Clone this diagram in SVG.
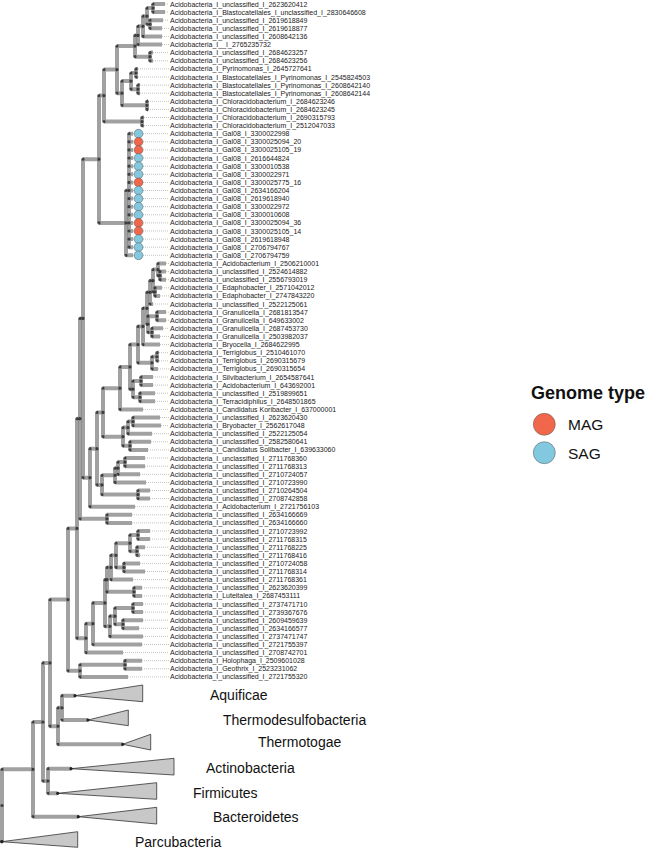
<svg xmlns="http://www.w3.org/2000/svg" width="646" height="850" viewBox="0 0 646 850">
<style>
.br{fill:none;stroke:#8a8a8a;stroke-opacity:.8;stroke-width:4}
.dt{fill:none;stroke:#1e1e1e;stroke-opacity:.75;stroke-width:3.2;stroke-linecap:round}
.ld{fill:none;stroke:#9a9a9a;stroke-width:.6;stroke-dasharray:1 1}
.lb{font-family:"Liberation Sans",Arial,sans-serif;font-size:7px;fill:#1a1a1a}
.cl{font-family:"Liberation Sans",Arial,sans-serif;font-size:14px;fill:#111}
.tri{fill:#c8c8c8;stroke:#333;stroke-width:.8}
.mag{fill:#F0674C;stroke:#555;stroke-width:.5}
.sag{fill:#82C8DE;stroke:#555;stroke-width:.5}
</style>
<rect width="646" height="850" fill="#fff"/>
<g id="connectors">
<path class="ld" d="M165 4H169M165 12.1H169M163 20.2H169M162 28.3H169M162 36.4H169M162 44.5H169M153 52.6H169M153 60.8H169M138 68.9H169M138 77H169M140 85.1H169M140 93.2H169M148 101.3H169M148 109.4H169M144 117.5H169M144 125.6H169M133 133.7H169M133 141.8H169M133 149.9H169M133 158H169M133 166.2H169M133 174.3H169M133 182.4H169M133 190.5H169M133 198.6H169M133 206.7H169M133 214.8H169M133 222.9H169M133 231H169M133 239.1H169M133 247.2H169M133 255.3H169M166 263.5H169M166 271.6H169M166 279.7H169M162 287.8H169M160 295.9H169M153 304H169M166 312.1H169M166 320.2H169M163 328.3H169M160 336.4H169M160 344.6H169M159 352.7H169M159 360.8H169M158 368.9H169M153 377H169M153 385.1H169M155 393.2H169M155 401.3H169M143 409.4H169M160 417.5H169M161 425.6H169M152 433.7H169M151 441.8H169M148 449.9H169M145 458H169M145 466.2H169M140 474.3H169M146 482.4H169M150 490.5H169M150 498.6H169M135 506.7H169M132 514.8H169M132 522.9H169M150 531H169M150 539.1H169M145 547.2H169M140 555.3H169M140 563.4H169M145 571.5H169M133 579.6H169M142 587.8H169M142 595.9H169M143 604H169M143 612.1H169M143 620.2H169M139 628.3H169M143 636.4H169M142 644.5H169M123 652.6H169M142 660.7H169M142 668.8H169M128 676.9H169"/>
<path class="br" d="M153 4V12.1M153 4H165M153 12.1H165"/>
<path class="br" d="M150 20.2V28.3M150 20.2H163M150 28.3H162"/>
<path class="br" d="M147 8.05V24.25M147 8.05H153M147 24.25H150"/>
<path class="br" d="M143 16.15V36.4M143 16.15H147M143 36.4H162"/>
<path class="br" d="M138 26.3V44.5M138 26.3H143M138 44.5H162"/>
<path class="br" d="M150 52.6V60.8M150 52.6H153M150 60.8H153"/>
<path class="br" d="M135 35.4V56.7M135 35.4H138M135 56.7H150"/>
<path class="br" d="M136 68.9V77M136 68.9H138M136 77H138"/>
<path class="br" d="M138 85.1V93.2M138 85.1H140M138 93.2H140"/>
<path class="br" d="M131 73V89.15M131 73H136M131 89.15H138"/>
<path class="br" d="M147 101.3V109.4M147 101.3H148M147 109.4H148"/>
<path class="br" d="M122 81.1V105.35M122 81.1H131M122 105.35H147"/>
<path class="br" d="M117 46.05V93.2M117 46.05H135M117 93.2H122"/>
<path class="br" d="M142 117.5V125.6M142 117.5H144M142 125.6H144"/>
<path class="br" d="M104 69.6V121.55M104 69.6H117M104 121.55H142"/>
<path class="br" d="M99 95.6V222.9M99 95.6H104M99 222.9H126"/>
<path class="br" d="M126 190.5V255.3M126 190.5H129M126 255.3H133"/>
<path class="br" d="M129 133.7V247.2M129 133.7H133M129 141.8H133M129 149.9H133M129 158H133M129 166.2H133M129 174.3H133M129 182.4H133M129 190.5H133M129 198.6H133M129 206.7H133M129 214.8H133M129 222.9H133M129 231H133M129 239.1H133M129 247.2H133"/>
<path class="br" d="M83 159.2V477.7M83 159.2H99M83 477.7H90"/>
<path class="br" d="M90 448.65V506.7M90 448.65H97M90 506.7H135"/>
<path class="br" d="M97 412.4V484.9M97 412.4H103M97 484.9H102"/>
<path class="br" d="M103 388.15V436.7M103 388.15H120M103 436.7H123"/>
<path class="br" d="M120 366.9V409.4M120 366.9H130M120 409.4H143"/>
<path class="br" d="M130 344.6V389.15M130 344.6H138M130 389.15H133"/>
<path class="br" d="M138 326.45V362.8M138 326.45H143M138 362.8H152"/>
<path class="br" d="M143 308.3V344.6M143 308.3H147M143 344.6H160"/>
<path class="br" d="M147 292.35V324.25M147 292.35H150M147 324.25H148"/>
<path class="br" d="M150 280.7V304M150 280.7H153M150 304H153"/>
<path class="br" d="M153 269.6V291.85M153 269.6H158M153 291.85H155"/>
<path class="br" d="M158 263.5V275.65M158 263.5H166M158 275.65H160"/>
<path class="br" d="M160 271.6V279.7M160 271.6H166M160 279.7H166"/>
<path class="br" d="M155 287.8V295.9M155 287.8H162M155 295.9H160"/>
<path class="br" d="M148 316.15V332.35M148 316.15H157M148 332.35H152"/>
<path class="br" d="M157 312.1V320.2M157 312.1H166M157 320.2H166"/>
<path class="br" d="M152 328.3V336.4M152 328.3H163M152 336.4H160"/>
<path class="br" d="M152 356.75V368.9M152 356.75H157M152 368.9H158"/>
<path class="br" d="M157 352.7V360.8M157 352.7H159M157 360.8H159"/>
<path class="br" d="M133 381.05V397.25M133 381.05H141M133 397.25H140"/>
<path class="br" d="M141 377V385.1M141 377H153M141 385.1H153"/>
<path class="br" d="M140 393.2V401.3M140 393.2H155M140 401.3H155"/>
<path class="br" d="M123 427.6V445.85M123 427.6H128M123 445.85H130"/>
<path class="br" d="M128 421.55V433.7M128 421.55H133M128 433.7H152"/>
<path class="br" d="M133 417.5V425.6M133 417.5H160M133 425.6H161"/>
<path class="br" d="M130 441.8V449.9M130 441.8H151M130 449.9H148"/>
<path class="br" d="M102 475.3V494.55M102 475.3H115M102 494.55H138"/>
<path class="br" d="M115 468.2V482.4M115 468.2H118M115 482.4H146"/>
<path class="br" d="M118 462.1V474.3M118 462.1H125M118 474.3H140"/>
<path class="br" d="M125 458V466.2M125 458H145M125 466.2H145"/>
<path class="br" d="M138 490.5V498.6M138 490.5H150M138 498.6H150"/>
<path class="br" d="M80 318.45V518.85M80 318.45H83M80 518.85H107"/>
<path class="br" d="M107 514.8V522.9M107 514.8H132M107 522.9H132"/>
<path class="br" d="M77 418.65V638.15M77 418.65H80M77 638.15H86"/>
<path class="br" d="M86 623.7V652.6M86 623.7H93M86 652.6H123"/>
<path class="br" d="M93 602.95V644.5M93 602.95H105M93 644.5H142"/>
<path class="br" d="M105 579.65V626.3M105 579.65H107M105 626.3H110"/>
<path class="br" d="M107 567.45V591.85M107 567.45H111M107 591.85H134"/>
<path class="br" d="M111 555.3V579.6M111 555.3H116M111 579.6H133"/>
<path class="br" d="M116 543.15V567.45M116 543.15H130M116 567.45H124"/>
<path class="br" d="M130 535.05V551.25M130 535.05H138M130 551.25H137"/>
<path class="br" d="M138 531V539.1M138 531H150M138 539.1H150"/>
<path class="br" d="M137 547.2V555.3M137 547.2H145M137 555.3H140"/>
<path class="br" d="M124 563.4V571.5M124 563.4H140M124 571.5H145"/>
<path class="br" d="M134 587.8V595.9M134 587.8H142M134 595.9H142"/>
<path class="br" d="M110 616.15V636.4M110 616.15H115M110 636.4H143"/>
<path class="br" d="M115 608.05V624.25M115 608.05H133M115 624.25H123"/>
<path class="br" d="M133 604V612.1M133 604H143M133 612.1H143"/>
<path class="br" d="M123 620.2V628.3M123 620.2H143M123 628.3H139"/>
<path class="br" d="M68 528.4V670.8M68 528.4H77M68 670.8H80"/>
<path class="br" d="M80 664.75V676.9M80 664.75H125M80 676.9H128"/>
<path class="br" d="M125 660.7V668.8M125 660.7H142M125 668.8H142"/>
<path class="br" d="M50 599.6V726.2M50 599.6H68M50 726.2H58"/>
<path class="br" d="M58 707.85V744.3M58 707.85H62M58 744.3H122.7"/>
<path class="br" d="M62 695.7V720M62 695.7H75M62 720H88"/>
<path class="br" d="M43 662.9V781M43 662.9H50M43 781H48"/>
<path class="br" d="M48 768.7V793.3M48 768.7H71M48 793.3H57.7"/>
<path class="br" d="M33 722V816.7M33 722H43M33 816.7H78.3"/>
<path class="br" d="M2 769.3V841.7M2 769.3H33"/>
<path class="dt" d="M153 8.05h0M153 4h0M153 12.1h0M150 24.25h0M150 20.2h0M150 28.3h0M147 16.15h0M147 8.05h0M147 24.25h0M143 26.3h0M143 16.15h0M143 36.4h0M138 35.4h0M138 26.3h0M138 44.5h0M150 56.7h0M150 52.6h0M150 60.8h0M135 46.05h0M135 35.4h0M135 56.7h0M136 73h0M136 68.9h0M136 77h0M138 89.15h0M138 85.1h0M138 93.2h0M131 81.1h0M131 73h0M131 89.15h0M147 105.35h0M147 101.3h0M147 109.4h0M122 93.2h0M122 81.1h0M122 105.35h0M117 69.6h0M117 46.05h0M117 93.2h0M142 121.55h0M142 117.5h0M142 125.6h0M104 95.6h0M104 69.6h0M104 121.55h0M99 159.2h0M99 95.6h0M99 222.9h0M126 222.9h0M126 190.5h0M126 255.3h0M129 133.7h0M129 141.8h0M129 149.9h0M129 158h0M129 166.2h0M129 174.3h0M129 182.4h0M129 190.5h0M129 198.6h0M129 206.7h0M129 214.8h0M129 222.9h0M129 231h0M129 239.1h0M129 247.2h0M83 318.45h0M83 159.2h0M83 477.7h0M90 477.7h0M90 448.65h0M90 506.7h0M97 448.65h0M97 412.4h0M97 484.9h0M103 412.4h0M103 388.15h0M103 436.7h0M120 388.15h0M120 366.9h0M120 409.4h0M130 366.9h0M130 344.6h0M130 389.15h0M138 344.6h0M138 326.45h0M138 362.8h0M143 326.45h0M143 308.3h0M143 344.6h0M147 308.3h0M147 292.35h0M147 324.25h0M150 292.35h0M150 280.7h0M150 304h0M153 280.7h0M153 269.6h0M153 291.85h0M158 269.6h0M158 263.5h0M158 275.65h0M160 275.65h0M160 271.6h0M160 279.7h0M155 291.85h0M155 287.8h0M155 295.9h0M148 324.25h0M148 316.15h0M148 332.35h0M157 316.15h0M157 312.1h0M157 320.2h0M152 332.35h0M152 328.3h0M152 336.4h0M152 362.8h0M152 356.75h0M152 368.9h0M157 356.75h0M157 352.7h0M157 360.8h0M133 389.15h0M133 381.05h0M133 397.25h0M141 381.05h0M141 377h0M141 385.1h0M140 397.25h0M140 393.2h0M140 401.3h0M123 436.7h0M123 427.6h0M123 445.85h0M128 427.6h0M128 421.55h0M128 433.7h0M133 421.55h0M133 417.5h0M133 425.6h0M130 445.85h0M130 441.8h0M130 449.9h0M102 484.9h0M102 475.3h0M102 494.55h0M115 475.3h0M115 468.2h0M115 482.4h0M118 468.2h0M118 462.1h0M118 474.3h0M125 462.1h0M125 458h0M125 466.2h0M138 494.55h0M138 490.5h0M138 498.6h0M80 418.65h0M80 318.45h0M80 518.85h0M107 518.85h0M107 514.8h0M107 522.9h0M77 528.4h0M77 418.65h0M77 638.15h0M86 638.15h0M86 623.7h0M86 652.6h0M93 623.7h0M93 602.95h0M93 644.5h0M105 602.95h0M105 579.65h0M105 626.3h0M107 579.65h0M107 567.45h0M107 591.85h0M111 567.45h0M111 555.3h0M111 579.6h0M116 555.3h0M116 543.15h0M116 567.45h0M130 543.15h0M130 535.05h0M130 551.25h0M138 535.05h0M138 531h0M138 539.1h0M137 551.25h0M137 547.2h0M137 555.3h0M124 567.45h0M124 563.4h0M124 571.5h0M134 591.85h0M134 587.8h0M134 595.9h0M110 626.3h0M110 616.15h0M110 636.4h0M115 616.15h0M115 608.05h0M115 624.25h0M133 608.05h0M133 604h0M133 612.1h0M123 624.25h0M123 620.2h0M123 628.3h0M68 599.6h0M68 528.4h0M68 670.8h0M80 670.8h0M80 664.75h0M80 676.9h0M125 664.75h0M125 660.7h0M125 668.8h0M50 662.9h0M50 599.6h0M50 726.2h0M58 726.2h0M58 707.85h0M58 744.3h0M62 707.85h0M62 695.7h0M62 720h0M43 722h0M43 662.9h0M43 781h0M48 781h0M48 768.7h0M48 793.3h0M33 769.3h0M33 722h0M33 816.7h0M2 805.5h0M2 769.3h0M2 841.7h0"/>
</g>
<g id="clade-aquificae"><polygon class="tri" points="75,695.7 142.7,685 142.7,701.7"/><circle cx="75" cy="695.7" r="1.6" fill="#222"/><text class="cl" x="210" y="700">Aquificae</text></g>
<g id="clade-thermodesulfobacteria"><polygon class="tri" points="88,720 128.3,710 128.3,725.7"/><circle cx="88" cy="720" r="1.6" fill="#222"/><text class="cl" x="223" y="725">Thermodesulfobacteria</text></g>
<g id="clade-thermotogae"><polygon class="tri" points="122.7,744.3 150.7,734.3 150.7,750"/><circle cx="122.7" cy="744.3" r="1.6" fill="#222"/><text class="cl" x="258" y="747">Thermotogae</text></g>
<g id="clade-actinobacteria"><polygon class="tri" points="71,768.7 174,758.3 174,775"/><circle cx="71" cy="768.7" r="1.6" fill="#222"/><text class="cl" x="206" y="773">Actinobacteria</text></g>
<g id="clade-firmicutes"><polygon class="tri" points="57.7,793.3 156.7,782.7 156.7,799.3"/><circle cx="57.7" cy="793.3" r="1.6" fill="#222"/><text class="cl" x="193" y="798">Firmicutes</text></g>
<g id="clade-bacteroidetes"><polygon class="tri" points="78.3,816.7 156.7,807.3 156.7,824"/><circle cx="78.3" cy="816.7" r="1.6" fill="#222"/><text class="cl" x="213" y="822">Bacteroidetes</text></g>
<g id="clade-parcubacteria"><polygon class="tri" points="1.7,841.7 77.7,831.7 77.7,847.3"/><circle cx="1.7" cy="841.7" r="1.6" fill="#222"/><text class="cl" x="135" y="847">Parcubacteria</text></g>
<g id="leaf01"><text class="lb" x="170" y="6.5">Acidobacteria_I_unclassified_I_2623620412</text></g>
<g id="leaf02"><text class="lb" x="170" y="14.6">Acidobacteria_I_Blastocatellales_I_unclassified_I_2830646608</text></g>
<g id="leaf03"><text class="lb" x="170" y="22.7">Acidobacteria_I_unclassified_I_2619618849</text></g>
<g id="leaf04"><text class="lb" x="170" y="30.8">Acidobacteria_I_unclassified_I_2619618877</text></g>
<g id="leaf05"><text class="lb" x="170" y="38.9">Acidobacteria_I_unclassified_I_2608642136</text></g>
<g id="leaf06"><text class="lb" x="170" y="47">Acidobacteria_I__I_2765235732</text></g>
<g id="leaf07"><text class="lb" x="170" y="55.1">Acidobacteria_I_unclassified_I_2684623257</text></g>
<g id="leaf08"><text class="lb" x="170" y="63.3">Acidobacteria_I_unclassified_I_2684623256</text></g>
<g id="leaf09"><text class="lb" x="170" y="71.4">Acidobacteria_I_Pyrinomonas_I_2645727641</text></g>
<g id="leaf10"><text class="lb" x="170" y="79.5">Acidobacteria_I_Blastocatellales_I_Pyrinomonas_I_2545824503</text></g>
<g id="leaf11"><text class="lb" x="170" y="87.6">Acidobacteria_I_Blastocatellales_I_Pyrinomonas_I_2608642140</text></g>
<g id="leaf12"><text class="lb" x="170" y="95.7">Acidobacteria_I_Blastocatellales_I_Pyrinomonas_I_2608642144</text></g>
<g id="leaf13"><text class="lb" x="170" y="103.8">Acidobacteria_I_Chloracidobacterium_I_2684623246</text></g>
<g id="leaf14"><text class="lb" x="170" y="111.9">Acidobacteria_I_Chloracidobacterium_I_2684623245</text></g>
<g id="leaf15"><text class="lb" x="170" y="120">Acidobacteria_I_Chloracidobacterium_I_2690315793</text></g>
<g id="leaf16"><text class="lb" x="170" y="128.1">Acidobacteria_I_Chloracidobacterium_I_2512047033</text></g>
<g id="leaf17"><circle class="sag" cx="138.5" cy="133.7" r="4.4"/><text class="lb" x="170" y="136.2">Acidobacteria_I_Gal08_I_3300022998</text></g>
<g id="leaf18"><circle class="mag" cx="138.5" cy="141.8" r="4.4"/><text class="lb" x="170" y="144.3">Acidobacteria_I_Gal08_I_3300025094_20</text></g>
<g id="leaf19"><circle class="mag" cx="138.5" cy="149.9" r="4.4"/><text class="lb" x="170" y="152.4">Acidobacteria_I_Gal08_I_3300025105_19</text></g>
<g id="leaf20"><circle class="sag" cx="138.5" cy="158" r="4.4"/><text class="lb" x="170" y="160.5">Acidobacteria_I_Gal08_I_2616644824</text></g>
<g id="leaf21"><circle class="sag" cx="138.5" cy="166.2" r="4.4"/><text class="lb" x="170" y="168.7">Acidobacteria_I_Gal08_I_3300010538</text></g>
<g id="leaf22"><circle class="sag" cx="138.5" cy="174.3" r="4.4"/><text class="lb" x="170" y="176.8">Acidobacteria_I_Gal08_I_3300022971</text></g>
<g id="leaf23"><circle class="mag" cx="138.5" cy="182.4" r="4.4"/><text class="lb" x="170" y="184.9">Acidobacteria_I_Gal08_I_3300025775_16</text></g>
<g id="leaf24"><circle class="sag" cx="138.5" cy="190.5" r="4.4"/><text class="lb" x="170" y="193">Acidobacteria_I_Gal08_I_2634166204</text></g>
<g id="leaf25"><circle class="sag" cx="138.5" cy="198.6" r="4.4"/><text class="lb" x="170" y="201.1">Acidobacteria_I_Gal08_I_2619618940</text></g>
<g id="leaf26"><circle class="sag" cx="138.5" cy="206.7" r="4.4"/><text class="lb" x="170" y="209.2">Acidobacteria_I_Gal08_I_3300022972</text></g>
<g id="leaf27"><circle class="sag" cx="138.5" cy="214.8" r="4.4"/><text class="lb" x="170" y="217.3">Acidobacteria_I_Gal08_I_3300010608</text></g>
<g id="leaf28"><circle class="mag" cx="138.5" cy="222.9" r="4.4"/><text class="lb" x="170" y="225.4">Acidobacteria_I_Gal08_I_3300025094_36</text></g>
<g id="leaf29"><circle class="mag" cx="138.5" cy="231" r="4.4"/><text class="lb" x="170" y="233.5">Acidobacteria_I_Gal08_I_3300025105_14</text></g>
<g id="leaf30"><circle class="sag" cx="138.5" cy="239.1" r="4.4"/><text class="lb" x="170" y="241.6">Acidobacteria_I_Gal08_I_2619618948</text></g>
<g id="leaf31"><circle class="sag" cx="138.5" cy="247.2" r="4.4"/><text class="lb" x="170" y="249.7">Acidobacteria_I_Gal08_I_2706794767</text></g>
<g id="leaf32"><circle class="sag" cx="138.5" cy="255.3" r="4.4"/><text class="lb" x="170" y="257.8">Acidobacteria_I_Gal08_I_2706794759</text></g>
<g id="leaf33"><text class="lb" x="170" y="266">Acidobacteria_I_Acidobacterium_I_2506210001</text></g>
<g id="leaf34"><text class="lb" x="170" y="274.1">Acidobacteria_I_unclassified_I_2524614882</text></g>
<g id="leaf35"><text class="lb" x="170" y="282.2">Acidobacteria_I_unclassified_I_2556793019</text></g>
<g id="leaf36"><text class="lb" x="170" y="290.3">Acidobacteria_I_Edaphobacter_I_2571042012</text></g>
<g id="leaf37"><text class="lb" x="170" y="298.4">Acidobacteria_I_Edaphobacter_I_2747843220</text></g>
<g id="leaf38"><text class="lb" x="170" y="306.5">Acidobacteria_I_unclassified_I_2522125061</text></g>
<g id="leaf39"><text class="lb" x="170" y="314.6">Acidobacteria_I_Granulicella_I_2681813547</text></g>
<g id="leaf40"><text class="lb" x="170" y="322.7">Acidobacteria_I_Granulicella_I_649633002</text></g>
<g id="leaf41"><text class="lb" x="170" y="330.8">Acidobacteria_I_Granulicella_I_2687453730</text></g>
<g id="leaf42"><text class="lb" x="170" y="338.9">Acidobacteria_I_Granulicella_I_2503982037</text></g>
<g id="leaf43"><text class="lb" x="170" y="347.1">Acidobacteria_I_Bryocella_I_2684622995</text></g>
<g id="leaf44"><text class="lb" x="170" y="355.2">Acidobacteria_I_Terriglobus_I_2510461070</text></g>
<g id="leaf45"><text class="lb" x="170" y="363.3">Acidobacteria_I_Terriglobus_I_2690315679</text></g>
<g id="leaf46"><text class="lb" x="170" y="371.4">Acidobacteria_I_Terriglobus_I_2690315654</text></g>
<g id="leaf47"><text class="lb" x="170" y="379.5">Acidobacteria_I_Silvibacterium_I_2654587641</text></g>
<g id="leaf48"><text class="lb" x="170" y="387.6">Acidobacteria_I_Acidobacterium_I_643692001</text></g>
<g id="leaf49"><text class="lb" x="170" y="395.7">Acidobacteria_I_unclassified_I_2519899651</text></g>
<g id="leaf50"><text class="lb" x="170" y="403.8">Acidobacteria_I_Terracidiphilus_I_2648501865</text></g>
<g id="leaf51"><text class="lb" x="170" y="411.9">Acidobacteria_I_Candidatus Koribacter_I_637000001</text></g>
<g id="leaf52"><text class="lb" x="170" y="420">Acidobacteria_I_unclassified_I_2623620430</text></g>
<g id="leaf53"><text class="lb" x="170" y="428.1">Acidobacteria_I_Bryobacter_I_2562617048</text></g>
<g id="leaf54"><text class="lb" x="170" y="436.2">Acidobacteria_I_unclassified_I_2522125054</text></g>
<g id="leaf55"><text class="lb" x="170" y="444.3">Acidobacteria_I_unclassified_I_2582580641</text></g>
<g id="leaf56"><text class="lb" x="170" y="452.4">Acidobacteria_I_Candidatus Solibacter_I_639633060</text></g>
<g id="leaf57"><text class="lb" x="170" y="460.5">Acidobacteria_I_unclassified_I_2711768360</text></g>
<g id="leaf58"><text class="lb" x="170" y="468.7">Acidobacteria_I_unclassified_I_2711768313</text></g>
<g id="leaf59"><text class="lb" x="170" y="476.8">Acidobacteria_I_unclassified_I_2710724057</text></g>
<g id="leaf60"><text class="lb" x="170" y="484.9">Acidobacteria_I_unclassified_I_2710723990</text></g>
<g id="leaf61"><text class="lb" x="170" y="493">Acidobacteria_I_unclassified_I_2710264504</text></g>
<g id="leaf62"><text class="lb" x="170" y="501.1">Acidobacteria_I_unclassified_I_2708742858</text></g>
<g id="leaf63"><text class="lb" x="170" y="509.2">Acidobacteria_I_Acidobacterium_I_2721756103</text></g>
<g id="leaf64"><text class="lb" x="170" y="517.3">Acidobacteria_I_unclassified_I_2634166669</text></g>
<g id="leaf65"><text class="lb" x="170" y="525.4">Acidobacteria_I_unclassified_I_2634166660</text></g>
<g id="leaf66"><text class="lb" x="170" y="533.5">Acidobacteria_I_unclassified_I_2710723992</text></g>
<g id="leaf67"><text class="lb" x="170" y="541.6">Acidobacteria_I_unclassified_I_2711768315</text></g>
<g id="leaf68"><text class="lb" x="170" y="549.7">Acidobacteria_I_unclassified_I_2711768225</text></g>
<g id="leaf69"><text class="lb" x="170" y="557.8">Acidobacteria_I_unclassified_I_2711768416</text></g>
<g id="leaf70"><text class="lb" x="170" y="565.9">Acidobacteria_I_unclassified_I_2710724058</text></g>
<g id="leaf71"><text class="lb" x="170" y="574">Acidobacteria_I_unclassified_I_2711768314</text></g>
<g id="leaf72"><text class="lb" x="170" y="582.1">Acidobacteria_I_unclassified_I_2711768361</text></g>
<g id="leaf73"><text class="lb" x="170" y="590.3">Acidobacteria_I_unclassified_I_2623620399</text></g>
<g id="leaf74"><text class="lb" x="170" y="598.4">Acidobacteria_I_Luteitalea_I_2687453111</text></g>
<g id="leaf75"><text class="lb" x="170" y="606.5">Acidobacteria_I_unclassified_I_2737471710</text></g>
<g id="leaf76"><text class="lb" x="170" y="614.6">Acidobacteria_I_unclassified_I_2739367676</text></g>
<g id="leaf77"><text class="lb" x="170" y="622.7">Acidobacteria_I_unclassified_I_2609459639</text></g>
<g id="leaf78"><text class="lb" x="170" y="630.8">Acidobacteria_I_unclassified_I_2634166577</text></g>
<g id="leaf79"><text class="lb" x="170" y="638.9">Acidobacteria_I_unclassified_I_2737471747</text></g>
<g id="leaf80"><text class="lb" x="170" y="647">Acidobacteria_I_unclassified_I_2721755397</text></g>
<g id="leaf81"><text class="lb" x="170" y="655.1">Acidobacteria_I_unclassified_I_2708742701</text></g>
<g id="leaf82"><text class="lb" x="170" y="663.2">Acidobacteria_I_Holophaga_I_2509601028</text></g>
<g id="leaf83"><text class="lb" x="170" y="671.3">Acidobacteria_I_Geothrix_I_2523231062</text></g>
<g id="leaf84"><text class="lb" x="170" y="679.4">Acidobacteria_I_unclassified_I_2721755320</text></g>
<g id="legend">
<text x="531" y="399" font-family="Liberation Sans, Arial, sans-serif" font-size="18" font-weight="bold" fill="#111">Genome type</text>
<circle class="mag" cx="544.3" cy="424.3" r="11"/>
<text x="568" y="430" font-family="Liberation Sans, Arial, sans-serif" font-size="15.5" fill="#111">MAG</text>
<circle class="sag" cx="544.3" cy="452.7" r="11"/>
<text x="568" y="458.5" font-family="Liberation Sans, Arial, sans-serif" font-size="15.5" fill="#111">SAG</text>
</g>
</svg>
